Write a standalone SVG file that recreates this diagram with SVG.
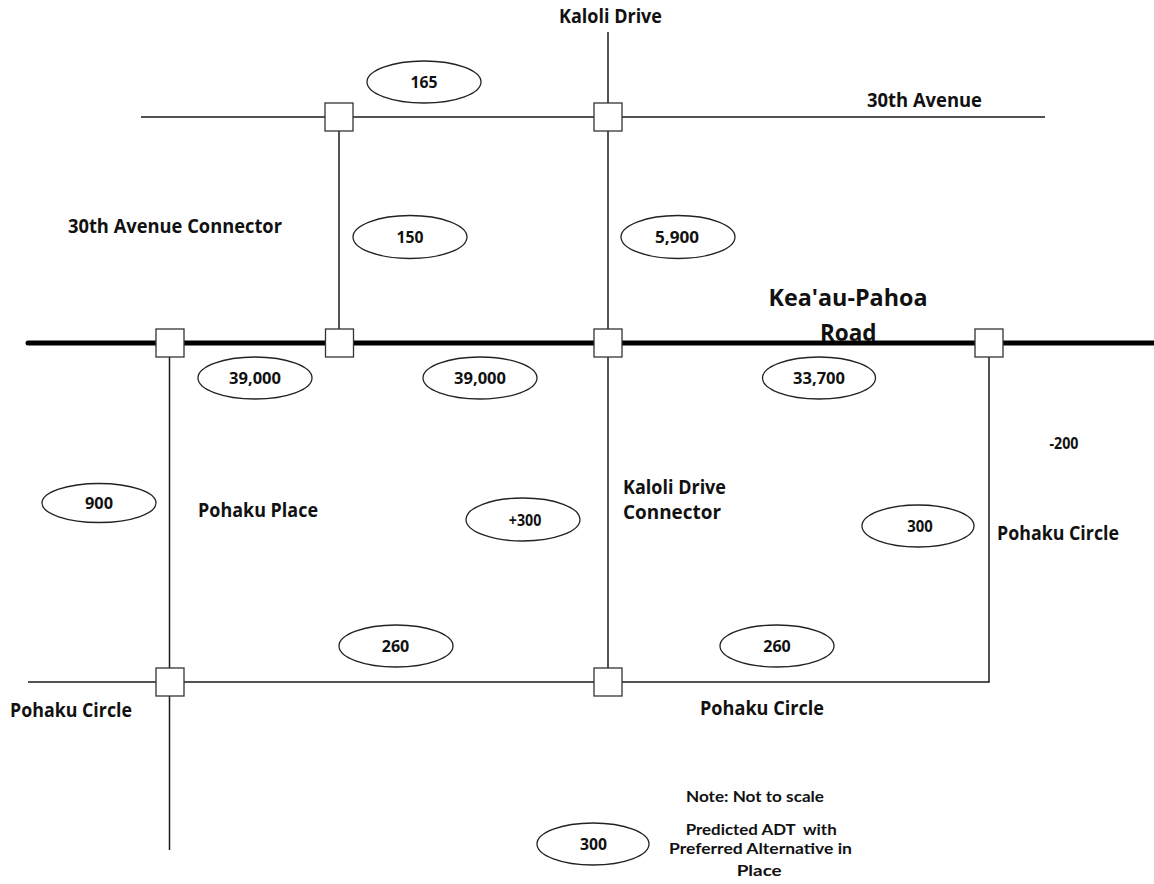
<svg xmlns="http://www.w3.org/2000/svg" width="1154" height="884" viewBox="0 0 1154 884">
<style>
.road{stroke:#1a1a1a;stroke-width:1.5;fill:none}
.main{stroke:#000;stroke-width:5;fill:none;stroke-linecap:round}
.box{fill:#fff;stroke:#333;stroke-width:1.3}
.oval{fill:#fff;stroke:#222;stroke-width:1.3}
text{font-family:"Open Sans",Lato,"Liberation Sans",sans-serif;font-weight:700;fill:#111}
.lbl{font-size:19px}
.big{font-size:24px}
.num{font-size:16px;text-anchor:middle}
.note{font-family:Lato,"Open Sans",sans-serif;font-size:15px}
</style>
<rect width="1154" height="884" fill="#fff"/>
<g id="connectors">
<line class="road" x1="141" y1="117" x2="1045" y2="117"/>
<line class="road" x1="608" y1="32" x2="608" y2="682"/>
<line class="road" x1="339" y1="117" x2="339" y2="343"/>
<line class="road" x1="169.5" y1="343" x2="169.5" y2="850"/>
<polyline class="road" points="28,682 989,682 989,343"/>
<line class="main" x1="28" y1="343" x2="1154" y2="343"/>
</g>
<g id="intersections">
<g id="n-30th-connector"><rect class="box" x="325" y="103" width="28" height="28"/></g>
<g id="n-30th-kaloli"><rect class="box" x="594" y="103" width="28" height="28"/></g>
<g id="n-main-pohakuplace"><rect class="box" x="156" y="329" width="28" height="28"/></g>
<g id="n-main-connector"><rect class="box" x="325.5" y="329" width="28" height="28"/></g>
<g id="n-main-kaloli"><rect class="box" x="594" y="329" width="28" height="28"/></g>
<g id="n-main-pohakucircle"><rect class="box" x="975" y="329" width="28" height="28"/></g>
<g id="n-bottom-left"><rect class="box" x="156" y="668" width="28" height="28"/></g>
<g id="n-bottom-kaloli"><rect class="box" x="594" y="668" width="28" height="28"/></g>
</g>
<g id="volumes">
<g id="v165"><ellipse class="oval" cx="424" cy="82" rx="57" ry="21"/><text class="num" x="424" y="88" textLength="27" lengthAdjust="spacingAndGlyphs">165</text></g>
<g id="v150"><ellipse class="oval" cx="410" cy="237" rx="57" ry="21.5"/><text class="num" x="410" y="243" textLength="27" lengthAdjust="spacingAndGlyphs">150</text></g>
<g id="v5900"><ellipse class="oval" cx="678" cy="237" rx="57" ry="21.5"/><text class="num" x="677" y="243" textLength="44" lengthAdjust="spacingAndGlyphs">5,900</text></g>
<g id="v39000a"><ellipse class="oval" cx="255" cy="378" rx="57" ry="21"/><text class="num" x="255" y="384" textLength="52" lengthAdjust="spacingAndGlyphs">39,000</text></g>
<g id="v39000b"><ellipse class="oval" cx="480" cy="378" rx="57" ry="21"/><text class="num" x="480" y="384" textLength="52" lengthAdjust="spacingAndGlyphs">39,000</text></g>
<g id="v33700"><ellipse class="oval" cx="819" cy="378" rx="56.5" ry="21"/><text class="num" x="819" y="384" textLength="52" lengthAdjust="spacingAndGlyphs">33,700</text></g>
<g id="v900"><ellipse class="oval" cx="99" cy="503" rx="57" ry="19.5"/><text class="num" x="99" y="509" textLength="28" lengthAdjust="spacingAndGlyphs">900</text></g>
<g id="vplus300"><ellipse class="oval" cx="523" cy="519.5" rx="57" ry="21.5"/><text class="num" x="525" y="525.5" textLength="32.5" lengthAdjust="spacingAndGlyphs">+300</text></g>
<g id="v300"><ellipse class="oval" cx="918" cy="526" rx="56" ry="21"/><text class="num" x="920" y="532" textLength="25.5" lengthAdjust="spacingAndGlyphs">300</text></g>
<g id="v260a"><ellipse class="oval" cx="396" cy="646" rx="57" ry="21"/><text class="num" x="395.5" y="652" textLength="27.6" lengthAdjust="spacingAndGlyphs">260</text></g>
<g id="v260b"><ellipse class="oval" cx="777" cy="646" rx="57" ry="21"/><text class="num" x="777" y="652" textLength="27.6" lengthAdjust="spacingAndGlyphs">260</text></g>
<g id="legend300"><ellipse class="oval" cx="593" cy="844" rx="56" ry="21"/><text class="num" x="593.5" y="850" textLength="27" lengthAdjust="spacingAndGlyphs">300</text></g>
</g>
<g id="labels">
<text class="lbl" x="559" y="23.3" textLength="103" lengthAdjust="spacingAndGlyphs">Kaloli Drive</text>
<text class="lbl" x="867" y="107.3" textLength="115" lengthAdjust="spacingAndGlyphs">30th Avenue</text>
<text class="lbl" x="68" y="233" textLength="214" lengthAdjust="spacingAndGlyphs">30th Avenue Connector</text>
<text class="big" x="768.5" y="306" textLength="159" lengthAdjust="spacingAndGlyphs">Kea'au-Pahoa</text>
<text class="big" x="820" y="341" textLength="56.5" lengthAdjust="spacingAndGlyphs">Road</text>
<text class="lbl" x="198" y="517" textLength="120" lengthAdjust="spacingAndGlyphs">Pohaku Place</text>
<text class="lbl" x="623" y="494" textLength="103" lengthAdjust="spacingAndGlyphs">Kaloli Drive</text>
<text class="lbl" x="623" y="519.3" textLength="98" lengthAdjust="spacingAndGlyphs">Connector</text>
<text class="num" x="1064" y="449" textLength="29" lengthAdjust="spacingAndGlyphs">-200</text>
<text class="lbl" x="997" y="540" textLength="122" lengthAdjust="spacingAndGlyphs">Pohaku Circle</text>
<text class="lbl" x="10" y="716.7" textLength="122" lengthAdjust="spacingAndGlyphs">Pohaku Circle</text>
<text class="lbl" x="700" y="715" textLength="124" lengthAdjust="spacingAndGlyphs">Pohaku Circle</text>
<text class="note" x="686" y="801.7" textLength="138" lengthAdjust="spacingAndGlyphs">Note: Not to scale</text>
<text class="note" x="685.7" y="835" textLength="151" lengthAdjust="spacingAndGlyphs" style="white-space:pre">Predicted ADT  with</text>
<text class="note" x="669" y="853.5" textLength="183" lengthAdjust="spacingAndGlyphs">Preferred Alternative in</text>
<text class="note" x="736.7" y="876" textLength="45" lengthAdjust="spacingAndGlyphs">Place</text>
</g>
</svg>
